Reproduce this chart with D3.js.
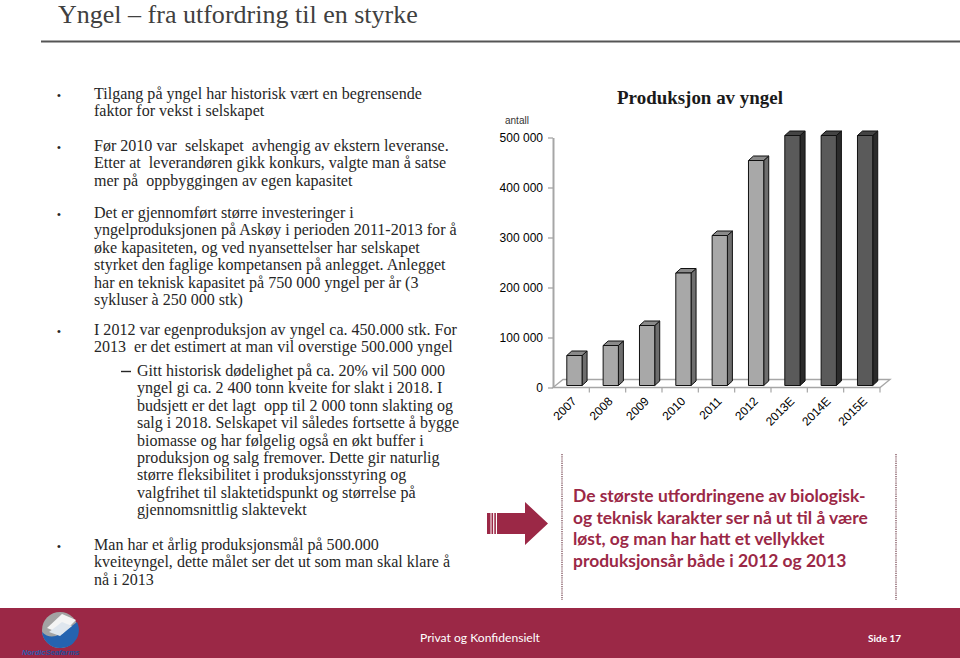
<!DOCTYPE html>
<html><head><meta charset="utf-8">
<script src="https://cdn.jsdelivr.net/npm/d3@7"></script>
<style>
html,body{margin:0;padding:0;background:#fff;}
svg{display:block;}
</style></head>
<body>
<svg id="c" width="960" height="658"></svg>
<script>
// ---------- data ----------
const categories = ["2007","2008","2009","2010","2011","2012","2013E","2014E","2015E"];
const values = [60000, 80000, 120000, 225000, 300000, 450000, 500000, 500000, 500000];
const estimated = [false,false,false,false,false,false,true,true,true];
const yTicks = [0, 100000, 200000, 300000, 400000, 500000];
const chartTitle = "Produksjon av yngel";
const yLabel = "antall";
const slideTitle = "Yngel – fra utfordring til en styrke";
const bullet1 = ["Tilgang på yngel har historisk vært en begrensende","faktor for vekst i selskapet"];
const bullet2 = ["Før 2010 var  selskapet  avhengig av ekstern leveranse.","Etter at  leverandøren gikk konkurs, valgte man å satse","mer på  oppbyggingen av egen kapasitet"];
const bullet3 = ["Det er gjennomført større investeringer i","yngelproduksjonen på Askøy i perioden 2011-2013 for å","øke kapasiteten, og ved nyansettelser har selskapet","styrket den faglige kompetansen på anlegget. Anlegget","har en teknisk kapasitet på 750 000 yngel per år (3","sykluser à 250 000 stk)"];
const bullet4 = ["I 2012 var egenproduksjon av yngel ca. 450.000 stk. For","2013  er det estimert at man vil overstige 500.000 yngel"];
const subBullet = ["Gitt historisk dødelighet på ca. 20% vil 500 000","yngel gi ca. 2 400 tonn kveite for slakt i 2018. I","budsjett er det lagt  opp til 2 000 tonn slakting og","salg i 2018. Selskapet vil således fortsette å bygge","biomasse og har følgelig også en økt buffer i","produksjon og salg fremover. Dette gir naturlig","større fleksibilitet i produksjonsstyring og","valgfrihet til slaktetidspunkt og størrelse på","gjennomsnittlig slaktevekt"];
const bullet5 = ["Man har et årlig produksjonsmål på 500.000","kveiteyngel, dette målet ser det ut som man skal klare å","nå i 2013"];
const boxLines = ["De største utfordringene av biologisk-","og teknisk karakter ser nå ut til å være","løst, og man har hatt et vellykket","produksjonsår både i 2012 og 2013"];
const footerText = "Privat og Konfidensielt";
const pageText = "Side 17";

// ---------- helpers ----------
const cv = document.createElement("canvas").getContext("2d");
function fit(text, family, weight, target){
  cv.font = `${weight} 100px ${family}`;
  return 100 * target / cv.measureText(text).width;
}
const svg = d3.select("#c");
const RED = "#9b2846";
const SERIF = "'Liberation Serif', serif";
const SANS = "'Liberation Sans', Arial, sans-serif";
const HUM = "Lato, 'Open Sans', sans-serif";
const NARROW = "'Liberation Sans Narrow', Lato, sans-serif";

// ---------- slide title ----------
const tSize = fit(slideTitle, SERIF, "normal", 360);
svg.append("text").attr("x", 58).attr("y", 23)
  .attr("font-family", SERIF).attr("font-size", tSize).attr("fill", "#404040")
  .text(slideTitle);
svg.append("line").attr("x1", 41).attr("x2", 960).attr("y1", 41.5).attr("y2", 41.5)
  .attr("stroke", "#555").attr("stroke-width", 2);

// ---------- left text ----------
const bSize = fit(bullet4[0], SERIF, "normal", 363);
const textCol = "#262626";
function block(lines, x, y0, lh){
  lines.forEach((t,i)=>{
    svg.append("text").attr("x", x).attr("y", y0 + i*lh)
      .attr("font-family", SERIF).attr("font-size", bSize).attr("fill", textCol)
      .style("white-space","pre").text(t);
  });
}
function dot(y){
  svg.append("text").attr("x", 57).attr("y", y).attr("font-family", SANS)
    .attr("font-size", 11).attr("fill", textCol).text("•");
}
const LH = 17.4;
dot(99); block(bullet1, 94, 99, LH);
dot(151); block(bullet2, 94, 151, LH);
dot(218); block(bullet3, 94, 218, LH);
dot(335); block(bullet4, 94, 335, LH);
svg.append("line").attr("x1", 121).attr("x2", 131).attr("y1", 371.5).attr("y2", 371.5)
  .attr("stroke", textCol).attr("stroke-width", 1.4);
block(subBullet, 137, 376, 17.4);
dot(550); block(bullet5, 94, 550, LH);

// ---------- chart ----------
const x0 = 553, x1 = 880, depthX = 10, depthY = -8;
const x = d3.scaleBand().domain(categories).range([x0, x1]).padding(0);
const y = d3.scaleLinear().domain([0, 500000]).range([387.5, 137.5]);
const g = svg.append("g");

// floor
const floorY = y(0);
const floorCol = "#a6a6a6";
g.append("path")
  .attr("d", `M${x0},${floorY}L${x1},${floorY}L${x1+depthX},${floorY+depthY}L${x0+depthX},${floorY+depthY}Z`)
  .attr("fill", "none").attr("stroke", floorCol).attr("stroke-width", 1.3);
d3.range(1, categories.length + 1).forEach(i=>{
  const xx = x0 + i * x.step();
  g.append("line").attr("x1", xx).attr("x2", xx).attr("y1", floorY).attr("y2", floorY+5)
    .attr("stroke", floorCol).attr("stroke-width", 1.2);
});

// bars (3D)
const bw = x.bandwidth();
const fw = bw * 0.42, off = bw * 0.38, dx = 5, dy = 4.5, lift = 2;
categories.forEach((c,i)=>{
  const left = x(c) + off, right = left + fw;
  const top = y(values[i]) - lift, bottom = y(0) - lift;
  const est = estimated[i];
  const front = est ? "#5a5a5a" : "#a8a8a8";
  const side = est ? "#2b2b2b" : "#6e6e6e";
  const topc = est ? "#444" : "#8a8a8a";
  const bg = g.append("g").attr("stroke", "#111").attr("stroke-width", 1).attr("stroke-linejoin","round");
  bg.append("path").attr("d", `M${right},${top}L${right+dx},${top-dy}L${right+dx},${bottom-dy}L${right},${bottom}Z`).attr("fill", side);
  bg.append("path").attr("d", `M${left},${top}L${left+dx},${top-dy}L${right+dx},${top-dy}L${right},${top}Z`).attr("fill", topc);
  bg.append("rect").attr("x", left).attr("y", top).attr("width", fw).attr("height", bottom-top).attr("fill", front);
});

// y axis
const loc = d3.formatLocale({decimal:",", thousands:" ", grouping:[3], currency:["",""]});
const yAxis = d3.axisLeft(y).tickValues(yTicks).tickFormat(loc.format(",")).tickSize(5).tickSizeOuter(0).tickPadding(5);
const ga = svg.append("g").attr("transform", `translate(${x0},0)`).call(yAxis);
ga.select(".domain").attr("stroke", floorCol).attr("stroke-width", 2);
ga.selectAll(".tick line").attr("stroke", floorCol).attr("stroke-width", 1.3);
ga.selectAll(".tick text").attr("font-family", SANS).attr("font-size", 12).attr("fill", "#000");

// x labels
categories.forEach(c=>{
  const cx = x(c) + x.bandwidth()/2 + 6;
  svg.append("text").attr("transform", `translate(${cx},402) rotate(-45)`)
    .attr("text-anchor", "end").attr("font-family", SANS).attr("font-size", 12).attr("fill", "#000")
    .text(c);
});

// titles
svg.append("text").attr("x", 700).attr("y", 104).attr("text-anchor", "middle")
  .attr("font-family", SERIF).attr("font-weight", "bold").attr("font-size", fit(chartTitle, SERIF, "bold", 166))
  .attr("fill", "#1a1a1a").text(chartTitle);
svg.append("text").attr("x", 505).attr("y", 124).attr("font-family", SANS).attr("font-size", 10)
  .attr("fill", "#333").text(yLabel);

// ---------- arrow + box ----------
const arrow = svg.append("g").attr("fill", RED);
arrow.append("rect").attr("x", 487).attr("y", 513).attr("width", 3.5).attr("height", 21);
arrow.append("rect").attr("x", 491.5).attr("y", 513).attr("width", 1.6).attr("height", 21);
arrow.append("rect").attr("x", 494.3).attr("y", 513).attr("width", 1.6).attr("height", 21);
arrow.append("path").attr("d", "M497,513L525,513L525,502L548,523.5L525,545L525,534L497,534Z");

[562, 896].forEach(xx=>{
  svg.append("line").attr("x1", xx).attr("x2", xx).attr("y1", 454).attr("y2", 600)
    .attr("stroke", "#7a4a56").attr("stroke-width", 1.3).attr("stroke-dasharray", "1.2,1");
});
const boxSize = fit(boxLines[0], HUM, "bold", 293);
boxLines.forEach((t,i)=>{
  svg.append("text").attr("x", 573).attr("y", 502 + i*21.7)
    .attr("font-family", HUM).attr("font-weight", "bold").attr("font-size", boxSize)
    .attr("fill", RED).text(t);
});

// ---------- footer ----------
svg.append("rect").attr("x", 0).attr("y", 608).attr("width", 960).attr("height", 50).attr("fill", RED);
svg.append("text").attr("x", 420).attr("y", 642).attr("font-family", NARROW)
  .attr("font-size", fit(footerText, NARROW, "normal", 120)).attr("fill", "#fff").text(footerText);
svg.append("text").attr("x", 868).attr("y", 642).attr("font-family", NARROW).attr("font-weight", "bold")
  .attr("font-size", fit(pageText, NARROW, "bold", 33)).attr("fill", "#fff").text(pageText);

// logo
const logo = svg.append("g");
logo.append("circle").attr("cx", 60).attr("cy", 630).attr("r", 18).attr("fill", "#a3a3a3");
logo.append("path").attr("d", "M42,632 Q50,640 60,634 Q70,628 77,622 A18,18 0 0 1 60,648 A18,18 0 0 1 42,632Z").attr("fill", "#2563b0");
logo.append("path").attr("d", "M47,628 L62,614 L76,620 L62,634 Z").attr("fill", "#f4f4f4");
logo.append("path").attr("d", "M49,632 L62,622 L72,626 L60,636 Z").attr("fill", "#dfe6ee");
const lt = svg.append("text").attr("x", 22).attr("y", 655).attr("font-family", SANS)
  .attr("font-size", 7.5).attr("font-weight", "bold").attr("font-style", "italic");
lt.append("tspan").attr("fill", "#2a5db0").text("Nordic");
lt.append("tspan").attr("fill", "#1d4f9c").text("Seafarms");
</script>
</body></html>
